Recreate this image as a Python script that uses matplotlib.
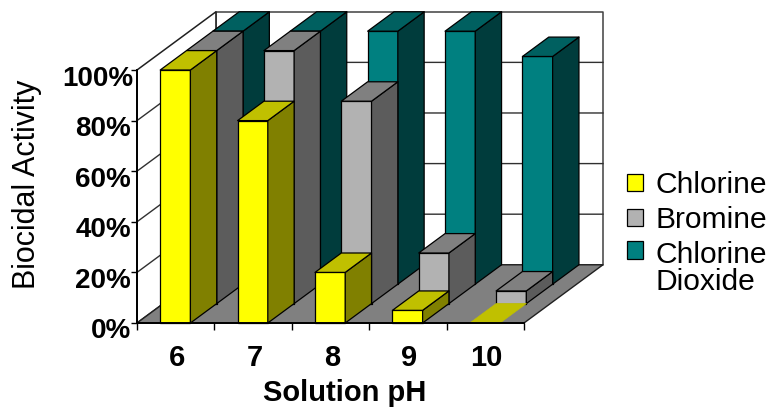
import matplotlib
matplotlib.use("Agg")
import matplotlib.pyplot as plt
from matplotlib.patches import Polygon, Patch
from matplotlib.transforms import ScaledTranslation

plt.rcParams['font.family'] = ['Liberation Sans', 'DejaVu Sans']

categories = ['6', '7', '8', '9', '10']
chlorine = [100, 80, 20, 5, 0]
bromine = [100, 100, 80, 20, 5]
chlorine_dioxide = [100, 100, 100, 100, 90]
y_ticks = [0, 20, 40, 60, 80, 100]
y_labels = ['0%', '20%', '40%', '60%', '80%', '100%']

W, H = 778, 408
fig = plt.figure(figsize=(W / 100, H / 100), dpi=100, facecolor='white')
ax = fig.add_axes([137 / W, (H - 323) / H, 387 / W, 253 / H])
ax.set_xlim(0, len(categories))
ax.set_ylim(0, 100)

# oblique projection: one depth row shifts this much in data units
ROW_DX, ROW_DY = 0.34, 7.67
ROWS = 3
BAR_X, BAR_W = 0.30, 0.39
EDGE = '#000000'


def p(x, y, d):
    return (x + d * ROW_DX, y + d * ROW_DY)


def face(pts, color, z, ec=EDGE, lw=0.9):
    ax.add_patch(Polygon(pts, closed=True, facecolor=color, edgecolor=ec,
                         linewidth=lw, zorder=z, clip_on=False, joinstyle='round'))


n = len(categories)
# walls and floor
face([p(0, 0, ROWS), p(n, 0, ROWS), p(n, 100, ROWS), p(0, 100, ROWS)], 'white', 1, '#404040', 1.1)
face([p(0, 0, 0), p(0, 0, ROWS), p(0, 100, ROWS), p(0, 100, 0)], 'white', 1, '#202020', 1.1)
for t in y_ticks[1:-1]:
    ax.plot(*zip(p(0, t, 0), p(0, t, ROWS), p(n, t, ROWS)), color='#303030', lw=1.0,
            zorder=1.5, clip_on=False)
face([p(0, 0, 0), p(n, 0, 0), p(n, 0, ROWS), p(0, 0, ROWS)], '#808080', 2, '#202020', 1.0)

series = [
    (2, chlorine_dioxide, '#008080', '#006060', '#003C3C'),
    (1, bromine, '#B2B2B2', '#808080', '#5C5C5C'),
    (0, chlorine, '#FFFF00', '#C0C000', '#808000'),
]
z = 3
for row, values, front, top, side in series:
    for i, v in enumerate(values):
        x0, x1 = i + BAR_X, i + BAR_X + BAR_W
        if v > 0:
            face([p(x0, 0, row), p(x1, 0, row), p(x1, v, row), p(x0, v, row)], front, z)
            face([p(x1, 0, row), p(x1, 0, row + 1), p(x1, v, row + 1), p(x1, v, row)], side, z)
            face([p(x0, v, row), p(x1, v, row), p(x1, v, row + 1), p(x0, v, row + 1)], top, z)
        else:
            face([p(x0, v, row), p(x1, v, row), p(x1, v, row + 1), p(x0, v, row + 1)], top, z,
                 ec=top, lw=0.5)
    z += 1

for s in ('top', 'right'):
    ax.spines[s].set_visible(False)
for s in ('left', 'bottom'):
    ax.spines[s].set_linewidth(1.4)
    ax.spines[s].set_zorder(8)

ax.patch.set_visible(False)
ax.set_yticks(y_ticks)
ax.set_yticklabels(y_labels, fontsize=20, fontweight='bold')
ax.tick_params(axis='y', length=4.5, width=1.0, pad=0)
down = ScaledTranslation(0, -5.5 / 100, fig.dpi_scale_trans)
for lab in ax.get_yticklabels():
    lab.set_transform(lab.get_transform() + down)
top_shift = ScaledTranslation(3 / 100, -1 / 100, fig.dpi_scale_trans)
ax.get_yticklabels()[-1].set_transform(ax.get_yticklabels()[-1].get_transform() + top_shift)

ax.set_xticks([i + 0.5 for i in range(n)])
ax.set_xticklabels(categories, fontsize=21, fontweight='bold')
ax.set_xticks(list(range(n + 1)), minor=True)
ax.tick_params(axis='x', which='major', length=0, pad=15)
ax.tick_params(axis='x', which='minor', length=5, width=1.0)
right = ScaledTranslation(1.5 / 100, 0, fig.dpi_scale_trans)
for lab in ax.get_xticklabels():
    lab.set_transform(lab.get_transform() + right)
ax.set_xlabel('Solution pH', fontsize=21, fontweight='bold')
ax.xaxis.set_label_coords((345 - 137) / 387, (323 - 401) / 253)
ax.xaxis.label.set_verticalalignment('baseline')
ax.set_ylabel('Biocidal Activity', fontsize=22, va='center')
ax.yaxis.set_label_coords((27 - 137) / 387, (323 - 184) / 253)

handles = [Patch(facecolor='#FFFF00', edgecolor='black', linewidth=0.9),
           Patch(facecolor='#B2B2B2', edgecolor='black', linewidth=0.9),
           Patch(facecolor='#008080', edgecolor='black', linewidth=0.9)]
leg = fig.legend(handles, ['Chlorine', 'Bromine', 'Chlorine\nDioxide'],
                 loc='upper left', bbox_to_anchor=(627 / W, 1 - 171 / H), frameon=False,
                 fontsize=21.6, handlelength=0.52, handleheight=0.52, handletextpad=0.42,
                 labelspacing=0.24, borderpad=0, borderaxespad=0)
for t in leg.get_texts():
    t.set_linespacing(0.92)
leg.legend_handles[2].set_y(leg.legend_handles[2].get_y() + 13.5)

fig.savefig('out.png', dpi=100)
